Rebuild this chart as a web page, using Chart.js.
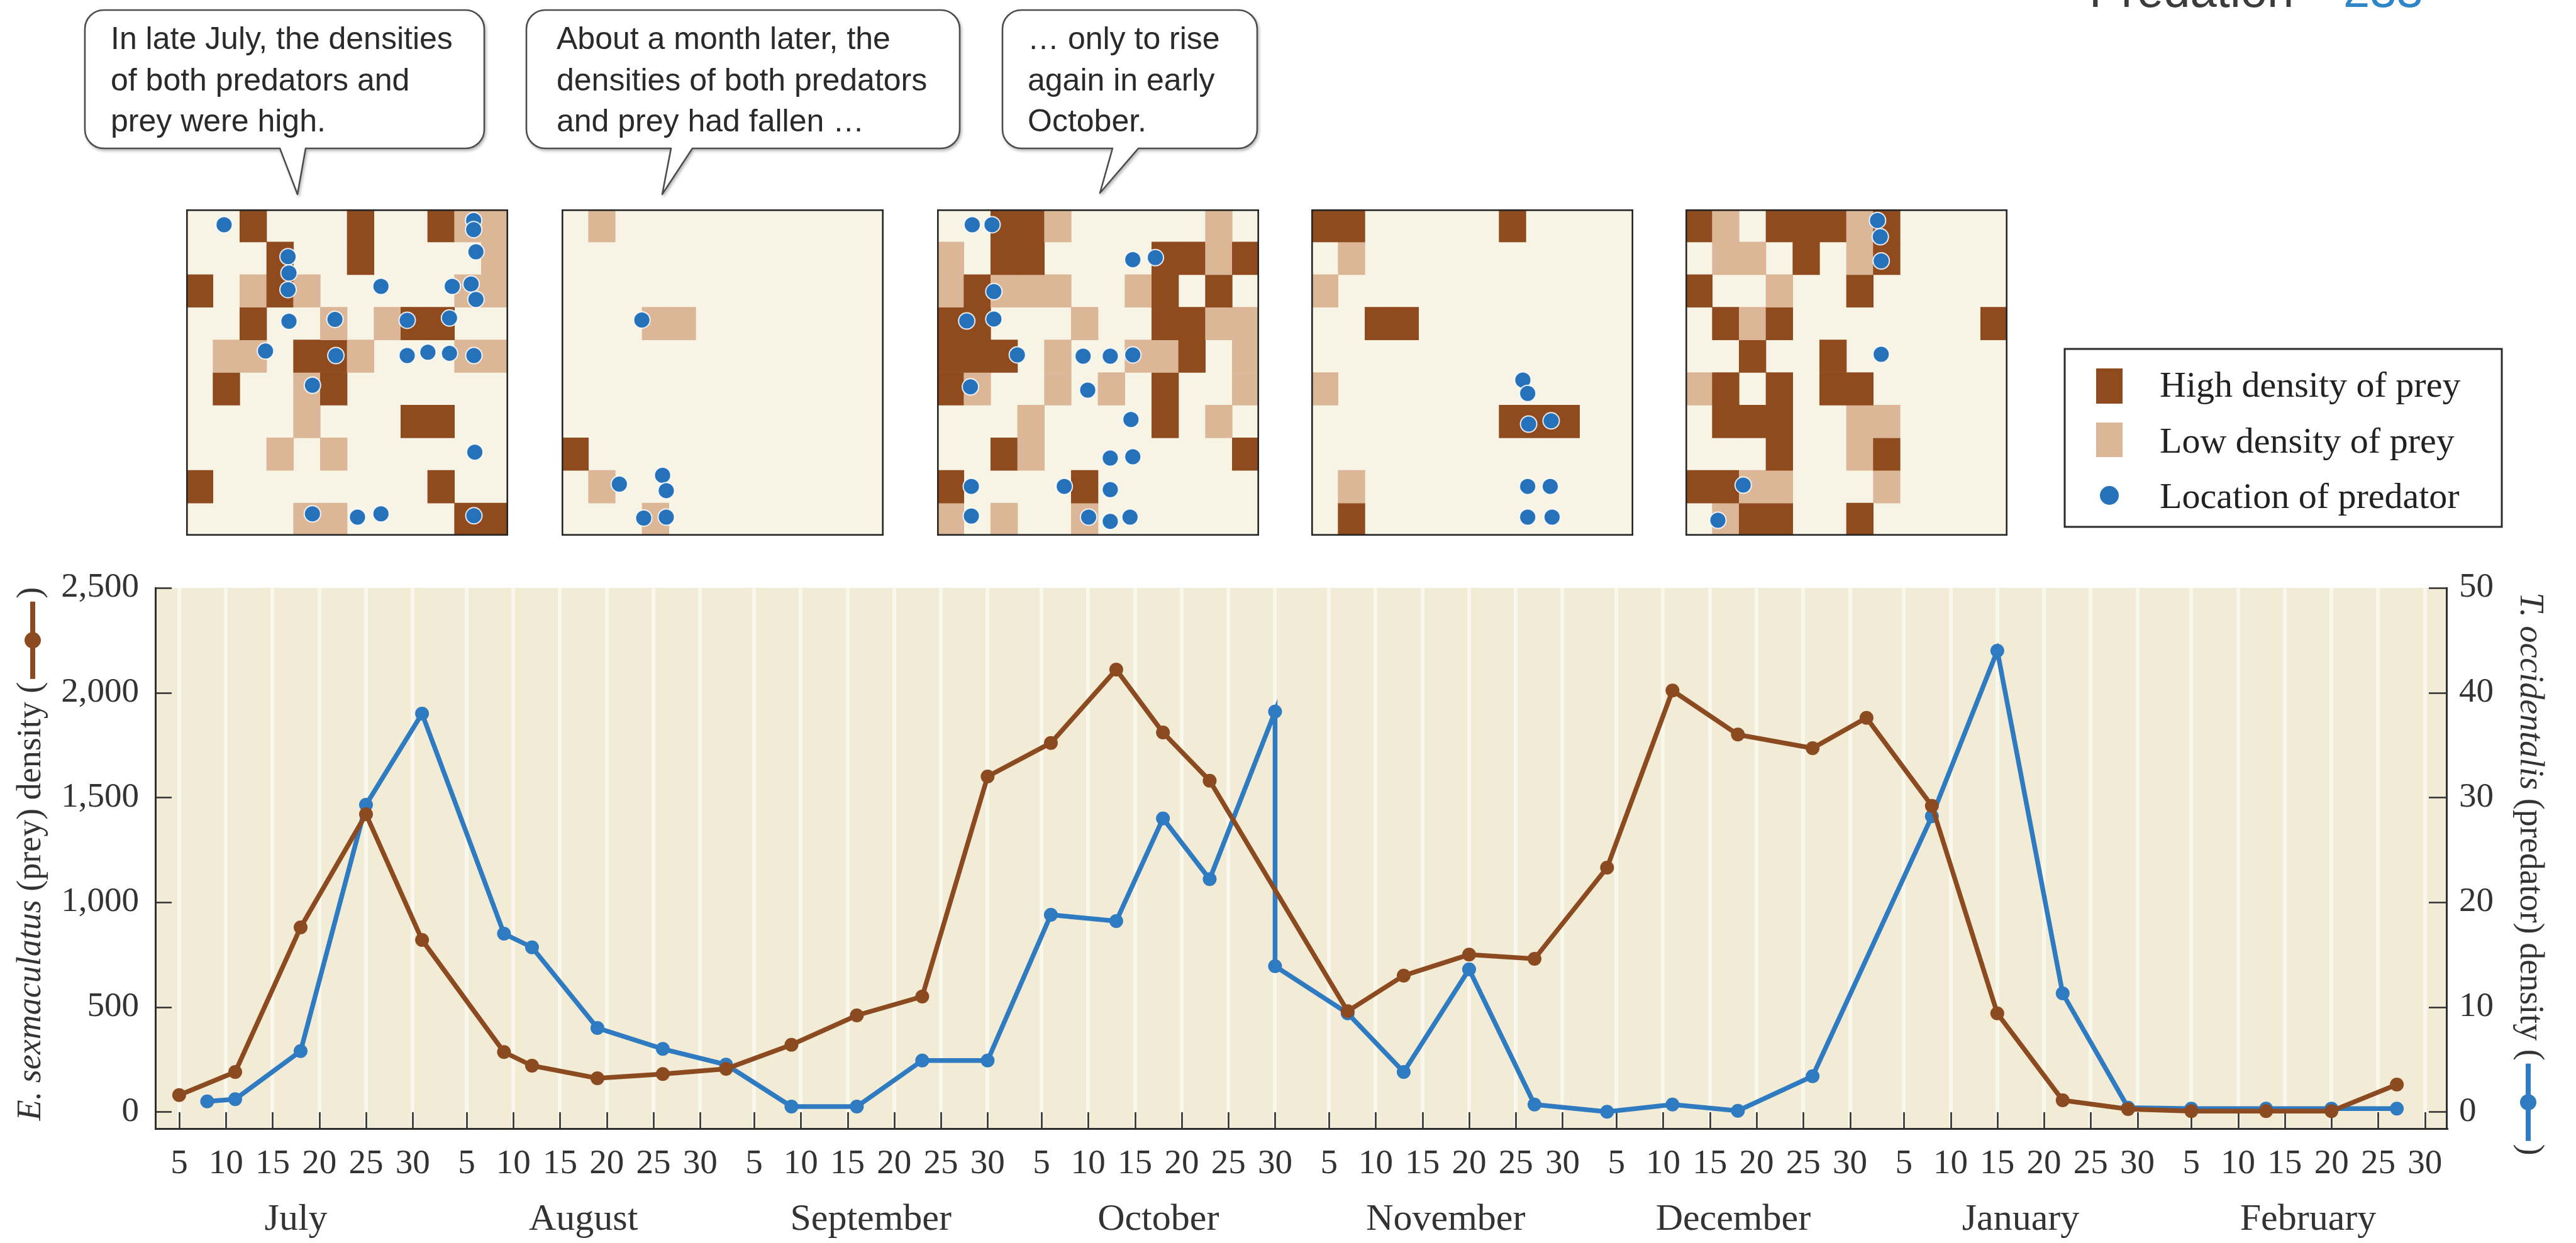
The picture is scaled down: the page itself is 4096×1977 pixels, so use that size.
<!DOCTYPE html>
<html>
<head>
<meta charset="utf-8">
<script src="https://cdn.jsdelivr.net/npm/chart.js@4.4.1/dist/chart.umd.min.js"></script>
<style>
  html, body { margin: 0; padding: 0; background: #ffffff; overflow: hidden; }
  #stage { position: relative; width: 4096px; height: 1977px; }
  #main { position: absolute; left: 0; top: 0; }
  .panel { position: absolute; top: 333px; }
  #overlay { position: absolute; left: 0; top: 0; pointer-events: none; }
</style>
</head>
<body>
<div id="stage">
  <canvas id="main" width="4096" height="1977"></canvas>
  <canvas class="panel" id="panel1" width="512" height="519" style="left:296px"></canvas>
  <canvas class="panel" id="panel2" width="512" height="519" style="left:893px"></canvas>
  <canvas class="panel" id="panel3" width="512" height="519" style="left:1490px"></canvas>
  <canvas class="panel" id="panel4" width="512" height="519" style="left:2085px"></canvas>
  <canvas class="panel" id="panel5" width="512" height="519" style="left:2680px"></canvas>
  <svg id="overlay" width="4096" height="1977" xmlns="http://www.w3.org/2000/svg">
    <defs>
      <filter id="shade" x="-5%" y="-5%" width="115%" height="130%">
        <feDropShadow dx="2" dy="3" stdDeviation="2" flood-color="#000" flood-opacity="0.28"/>
      </filter>
    </defs>
    <g font-family="'Liberation Sans', Arial, sans-serif" font-size="76">
      <text x="3322" y="11" fill="#3c3c3c">Predation</text>
      <text x="3726" y="11" fill="#2e86c9">233</text>
    </g>
    <g id="callouts"></g>
    <g id="legend" font-family="'Liberation Serif', serif" font-size="58" fill="#222">
      <rect x="3283" y="555" width="695" height="283" fill="#ffffff" stroke="#2b2b2b" stroke-width="3"/>
      <rect x="3333" y="586" width="42" height="56" fill="#8f4b1d"/>
      <rect x="3333" y="672" width="42" height="55" fill="#dcb797"/>
      <circle cx="3354" cy="788" r="15" fill="#2672ba"/>
      <text x="3434" y="631">High density of prey</text>
      <text x="3434" y="720">Low density of prey</text>
      <text x="3434" y="808">Location of predator</text>
    </g>
  </svg>
</div>
<script>
// ---- time axis -------------------------------------------------------------
const MONTHS = ['July', 'August', 'September', 'October', 'November', 'December', 'January', 'February'];
const MONTH_ABBR = ['Jul', 'Aug', 'Sep', 'Oct', 'Nov', 'Dec', 'Jan', 'Feb'];
const X_TICK_DAYS = [5, 10, 15, 20, 25, 30];
const X_TICK_LABELS = ['5', '10', '15', '20', '25', '30'];
const MONTH_SPAN = 30.77;          // axis units given to each month
const X_MIN = 2.45, X_MAX = 247.7;

// ---- prey: Eotetranychus sexmaculatus --------------------------------------
const preyDates = ['Jul 5', 'Jul 11', 'Jul 18', 'Jul 25', 'Jul 31', 'Aug 9', 'Aug 12', 'Aug 19', 'Aug 26',
  'Sep 2', 'Sep 9', 'Sep 16', 'Sep 23', 'Sep 30', 'Oct 6', 'Oct 13', 'Oct 18', 'Oct 23',
  'Nov 7', 'Nov 13', 'Nov 20', 'Nov 27', 'Dec 4', 'Dec 11', 'Dec 18', 'Dec 26',
  'Jan 1', 'Jan 8', 'Jan 15', 'Jan 22', 'Jan 29', 'Feb 5', 'Feb 13', 'Feb 20', 'Feb 27'];
const preyDensity = [80, 190, 880, 1420, 820, 285, 220, 160, 180,
  205, 320, 460, 550, 1600, 1760, 2110, 1810, 1580,
  480, 650, 750, 730, 1165, 2010, 1800, 1735,
  1880, 1460, 470, 55, 13, 3, 3, 3, 130];

// ---- predator: Typhlodromus occidentalis ----------------------------------
const predatorDates = ['Jul 8', 'Jul 11', 'Jul 18', 'Jul 25', 'Jul 31', 'Aug 9', 'Aug 12', 'Aug 19', 'Aug 26',
  'Sep 2', 'Sep 9', 'Sep 16', 'Sep 23', 'Sep 30', 'Oct 6', 'Oct 13', 'Oct 18', 'Oct 23', 'Oct 30', 'Oct 30',
  'Nov 7', 'Nov 13', 'Nov 20', 'Nov 27', 'Dec 4', 'Dec 11', 'Dec 18', 'Dec 26',
  'Jan 8', 'Jan 15', 'Jan 22', 'Jan 29', 'Feb 5', 'Feb 13', 'Feb 20', 'Feb 27'];
const predatorDensity = [1, 1.2, 5.8, 29.3, 38, 17, 15.7, 8, 6,
  4.5, 0.5, 0.5, 4.9, 4.9, 18.8, 18.2, 28, 22.2, 38.2, 13.9,
  9.4, 3.8, 13.6, 0.7, 0, 0.7, 0.1, 3.4,
  28.2, 44, 11.3, 0.4, 0.3, 0.3, 0.3, 0.3];

const PREY_TICKS = [0, 500, 1000, 1500, 2000, 2500];
const PREDATOR_TICKS = [0, 10, 20, 30, 40, 50];

// ---- sampling grids: H = high prey density, L = low, . = none -------------
const panel1Cells = [
  '..H...H..HLL',
  '...H..H....L',
  'H.LHL.....LL',
  '..H..L.LHH..',
  '.LL.HHL...LL',
  '.H..LH......',
  '....L...HH..',
  '...L.L......',
  'H........H..',
  '....LL....HH'];
const panel1Predators = [[0.65, 0.47], [11.5, 0.34], [11.5, 0.62], [11.6, 1.3], [3.43, 1.45], [3.47, 1.95],
  [3.43, 2.46], [7.47, 2.36], [10.57, 2.36], [11.39, 2.29], [11.6, 2.76], [3.47, 3.43], [5.47, 3.37],
  [8.61, 3.4], [10.45, 3.33], [2.45, 4.34], [5.51, 4.48], [8.61, 4.48], [9.51, 4.38], [10.45, 4.41],
  [11.51, 4.48], [4.49, 5.39], [11.55, 7.44], [4.49, 9.33], [6.45, 9.43], [7.47, 9.33], [11.51, 9.39]];

const panel2Cells = [
  '.L..........',
  '............',
  '............',
  '...LL.......',
  '............',
  '............',
  '............',
  'H...........',
  '.L..........',
  '...L........'];
const panel2Predators = [[2.49, 3.39], [3.39, 8.15], [3.55, 8.62], [1.51, 8.42], [2.57, 9.46], [3.55, 9.43]];

const panel3Cells = [
  '..HHL.....L.',
  'L.HH....HHLH',
  'LHLLL..LH.H.',
  'HH...L..HHLL',
  'HHH.L..LLH.L',
  'HL..L.L.H..L',
  '...L....H.L.',
  '..HL.......H',
  'H....H......',
  'L.L..L......'];
const panel3Predators = [[0.53, 0.47], [1.39, 0.47], [7.51, 1.54], [8.49, 1.48], [1.47, 2.52], [0.29, 3.42],
  [1.47, 3.36], [2.49, 4.46], [5.35, 4.5], [6.53, 4.5], [7.51, 4.46], [0.45, 5.44], [5.55, 5.54],
  [7.43, 6.44], [6.53, 7.62], [7.51, 7.58], [0.49, 8.49], [4.53, 8.49], [6.53, 8.59], [0.49, 9.4],
  [5.59, 9.43], [6.53, 9.56], [7.39, 9.43]];

const panel4Cells = [
  'HH.....H....',
  '.L..........',
  'L...........',
  '..HH........',
  '............',
  'L...........',
  '.......HHH..',
  '............',
  '.L..........',
  '.H..........'];
const panel4Predators = [[8.2, 5.23], [8.41, 5.64], [8.45, 6.58], [9.43, 6.48], [8.41, 8.49], [9.39, 8.49],
  [8.41, 9.43], [9.47, 9.43]];

const panel5Cells = [
  'HL.HHHLH....',
  '.LL.H.LH....',
  'H..L..H.....',
  '.HLH.......H',
  '..H..H......',
  'LH.H.HH.....',
  '.HHH..LL....',
  '...H..LH....',
  'HHLL...L....',
  '.LHH..H.....'];
const panel5Predators = [[7.35, 0.34], [7.47, 0.84], [7.51, 1.58], [7.51, 4.44], [1.51, 8.45], [0.41, 9.53]];

// ---- styles ----------------------------------------------------------------
const PREY_COLOR = '#8b4a20';
const PREDATOR_COLOR = '#2e7bc1';
const HIGH_COLOR = '#8f4b1d';
const LOW_COLOR = '#dcb797';
const DOT_COLOR = '#2672ba';
const CELL_BG = '#f7f4e6';
const PLOT_BG = '#f2ebd5';
const STRIPE = '#faf7ec';
const AXIS = '#2e2e2e';
const INK = '#333333';
const SERIF = "'Liberation Serif', 'Times New Roman', serif";

function dayPos(label) {
  const [mon, d] = label.split(' ');
  return MONTH_ABBR.indexOf(mon) * MONTH_SPAN + Number(d);
}
const xTickValues = MONTHS.flatMap((_, m) => X_TICK_DAYS.map(d => m * MONTH_SPAN + d));

// ---- sampling-grid charts --------------------------------------------------
function drawPanel(id, cells, predators) {
  const cols = cells[0].length, rows = cells.length;
  const datasets = cells.map((row, r) => ({
    type: 'bar',
    order: 1,
    data: row.split('').map(ch => (ch === '.' ? null : [r, r + 1])),
    backgroundColor: row.split('').map(ch => (ch === 'H' ? HIGH_COLOR : LOW_COLOR)),
    borderWidth: 0,
    grouped: false,
    barPercentage: 1,
    categoryPercentage: 1,
    xAxisID: 'x',
    yAxisID: 'y'
  }));
  datasets.push({
    type: 'scatter',
    order: 0,
    data: predators.map(([x, y]) => ({ x, y })),
    xAxisID: 'xp',
    yAxisID: 'y',
    pointRadius: 13,
    pointBackgroundColor: DOT_COLOR,
    pointBorderColor: 'rgba(255,255,255,0.85)',
    pointBorderWidth: 2
  });
  const frame = {
    id: 'frame',
    beforeDraw(chart) {
      const { ctx, chartArea: a } = chart;
      ctx.save();
      ctx.fillStyle = CELL_BG;
      ctx.fillRect(a.left, a.top, a.right - a.left, a.bottom - a.top);
      ctx.restore();
    },
    afterDraw(chart) {
      const { ctx, chartArea: a } = chart;
      ctx.save();
      ctx.strokeStyle = '#262626';
      ctx.lineWidth = 2.6;
      ctx.strokeRect(a.left + 1.3, a.top + 1.3, a.right - a.left - 2.6, a.bottom - a.top - 2.6);
      ctx.restore();
    }
  };
  new Chart(document.getElementById(id), {
    type: 'bar',
    data: { labels: Array.from({ length: cols }, (_, i) => i), datasets },
    options: {
      responsive: false,
      animation: false,
      events: [],
      layout: { padding: 0, autoPadding: false },
      plugins: { legend: { display: false }, tooltip: { enabled: false } },
      scales: {
        x: { type: 'category', display: false, offset: true },
        xp: { type: 'linear', display: false, min: 0, max: cols },
        y: { type: 'linear', display: false, min: 0, max: rows, reverse: true }
      }
    },
    plugins: [frame]
  });
}
drawPanel('panel1', panel1Cells, panel1Predators);
drawPanel('panel2', panel2Cells, panel2Predators);
drawPanel('panel3', panel3Cells, panel3Predators);
drawPanel('panel4', panel4Cells, panel4Predators);
drawPanel('panel5', panel5Cells, panel5Predators);

// ---- time-series chart -----------------------------------------------------
function axisTitle(ctx, cx, cy, angle, parts, color) {
  const size = 54;
  ctx.save();
  ctx.translate(cx, cy);
  ctx.rotate(angle);
  ctx.textBaseline = 'middle';
  ctx.fillStyle = INK;
  const fontOf = p => `${p.italic ? 'italic ' : ''}${size}px ${SERIF}`;
  const widths = parts.map(p => { ctx.font = fontOf(p); return ctx.measureText(p.text).width; });
  ctx.font = fontOf({});
  const closeW = ctx.measureText(')').width;
  const symLen = 123, gap = 5;
  const total = widths.reduce((s, w) => s + w, 0) + gap + symLen + gap + closeW;
  let x = -total / 2;
  parts.forEach((p, i) => { ctx.font = fontOf(p); ctx.fillText(p.text, x, 0); x += widths[i]; });
  x += gap;
  ctx.strokeStyle = color;
  ctx.fillStyle = color;
  ctx.lineWidth = 8;
  ctx.beginPath(); ctx.moveTo(x, 2); ctx.lineTo(x + symLen, 2); ctx.stroke();
  ctx.beginPath(); ctx.arc(x + symLen / 2, 2, 13, 0, Math.PI * 2); ctx.fill();
  x += symLen + gap;
  ctx.fillStyle = INK;
  ctx.font = fontOf({});
  ctx.fillText(')', x, 0);
  ctx.restore();
}

const decor = {
  id: 'decor',
  beforeDraw(chart) {
    const { ctx, chartArea: a } = chart;
    ctx.save();
    ctx.fillStyle = PLOT_BG;
    ctx.fillRect(a.left, a.top, a.right - a.left, a.bottom - a.top);
    ctx.restore();
  },
  beforeDatasetsDraw(chart) {
    const { ctx, chartArea: a, scales } = chart;
    ctx.save();
    ctx.strokeStyle = AXIS;
    ctx.lineWidth = 2.6;
    ctx.beginPath();
    scales.yL.ticks.forEach(t => {
      const y = Math.round(scales.yL.getPixelForValue(t.value)) + 0.5;
      ctx.moveTo(a.left, y); ctx.lineTo(a.left + 26, y);
    });
    scales.yR.ticks.forEach(t => {
      const y = Math.round(scales.yR.getPixelForValue(t.value)) + 0.5;
      ctx.moveTo(a.right - 28, y); ctx.lineTo(a.right, y);
    });
    scales.x.ticks.forEach(t => {
      const x = Math.round(scales.x.getPixelForValue(t.value)) + 0.5;
      ctx.moveTo(x, a.bottom); ctx.lineTo(x, a.bottom - 26);
    });
    ctx.stroke();
    ctx.restore();
  },
  afterDraw(chart) {
    const { ctx, scales } = chart;
    ctx.save();
    ctx.fillStyle = INK;
    ctx.font = `60px ${SERIF}`;
    ctx.textAlign = 'center';
    ctx.textBaseline = 'alphabetic';
    MONTHS.forEach((name, m) => {
      ctx.fillText(name, scales.x.getPixelForValue(m * MONTH_SPAN + 17.5), 1956);
    });
    ctx.restore();
    axisTitle(ctx, 50, 1358, -Math.PI / 2,
      [{ text: 'E. sexmaculatus', italic: true }, { text: ' (prey) density (' }], PREY_COLOR);
    axisTitle(ctx, 4022, 1390, Math.PI / 2,
      [{ text: 'T. occidentalis', italic: true }, { text: ' (predator) density (' }], PREDATOR_COLOR);
  }
};

const tickFont = { family: SERIF, size: 55 };
new Chart(document.getElementById('main'), {
  type: 'line',
  data: {
    datasets: [
      {
        label: 'E. sexmaculatus',
        data: preyDates.map((d, i) => ({ x: dayPos(d), y: preyDensity[i] })),
        yAxisID: 'yL',
        borderColor: PREY_COLOR,
        backgroundColor: PREY_COLOR,
        borderWidth: 7.5,
        pointRadius: 11,
        pointBorderWidth: 0,
        tension: 0
      },
      {
        label: 'T. occidentalis',
        data: predatorDates.map((d, i) => ({ x: dayPos(d), y: predatorDensity[i] })),
        yAxisID: 'yR',
        borderColor: PREDATOR_COLOR,
        backgroundColor: PREDATOR_COLOR,
        borderWidth: 7.5,
        pointRadius: 11,
        pointBorderWidth: 0,
        tension: 0
      }
    ]
  },
  options: {
    responsive: false,
    animation: false,
    events: [],
    layout: { padding: { top: 935, left: 0, right: 0, bottom: 0 }, autoPadding: false },
    plugins: { legend: { display: false }, tooltip: { enabled: false } },
    scales: {
      x: {
        type: 'linear',
        min: X_MIN,
        max: X_MAX,
        afterBuildTicks: s => { s.ticks = xTickValues.map(v => ({ value: v })); },
        afterFit: s => { s.height = 182; },
        grid: { color: STRIPE, lineWidth: 6, drawTicks: false },
        border: { display: true, color: AXIS, width: 3 },
        ticks: {
          callback: (v, i) => X_TICK_LABELS[i % X_TICK_LABELS.length],
          autoSkip: false, maxRotation: 0, minRotation: 0,
          padding: 24, font: tickFont, color: INK
        }
      },
      yL: {
        position: 'left',
        min: -80,
        max: 2500,
        afterBuildTicks: s => { s.ticks = PREY_TICKS.map(v => ({ value: v })); },
        afterFit: s => { s.width = 247; },
        grid: { drawOnChartArea: false, drawTicks: false },
        border: { display: true, color: AXIS, width: 3 },
        ticks: { callback: v => v.toLocaleString('en-US'), padding: 26, font: tickFont, color: INK }
      },
      yR: {
        position: 'right',
        min: -1.6,
        max: 50,
        afterBuildTicks: s => { s.ticks = PREDATOR_TICKS.map(v => ({ value: v })); },
        afterFit: s => { s.width = 206; },
        grid: { drawOnChartArea: false, drawTicks: false },
        border: { display: true, color: AXIS, width: 3 },
        ticks: { callback: v => String(v), padding: 20, font: tickFont, color: INK }
      }
    }
  },
  plugins: [decor]
});

// ---- speech-bubble notes ---------------------------------------------------
const noteLines = [
  ['In late July, the densities', 'of both predators and', 'prey were high.'],
  ['About a month later, the', 'densities of both predators', 'and prey had fallen …'],
  ['… only to rise', 'again in early', 'October.']
];
const noteBoxes = [
  { x: 135, y: 16, w: 635, h: 220, tl: 445, tr: 486, tipX: 473, tipY: 309, textX: 176 },
  { x: 837, y: 16, w: 689, h: 220, tl: 1067, tr: 1101, tipX: 1053, tipY: 309, textX: 885 },
  { x: 1594, y: 16, w: 405, h: 220, tl: 1769, tr: 1810, tipX: 1749, tipY: 307, textX: 1634 }
];
const NOTE_BASELINES = [78, 144, 209];
const SVGNS = 'http://www.w3.org/2000/svg';
const notes = document.getElementById('callouts');
noteBoxes.forEach((b, i) => {
  const r = 30, bottom = b.y + b.h;
  const d = [
    `M${b.x + r},${b.y}`, `H${b.x + b.w - r}`, `A${r},${r} 0 0 1 ${b.x + b.w},${b.y + r}`,
    `V${bottom - r}`, `A${r},${r} 0 0 1 ${b.x + b.w - r},${bottom}`,
    `H${b.tr}`, `L${b.tipX},${b.tipY}`, `L${b.tl},${bottom}`,
    `H${b.x + r}`, `A${r},${r} 0 0 1 ${b.x},${bottom - r}`,
    `V${b.y + r}`, `A${r},${r} 0 0 1 ${b.x + r},${b.y}`, 'Z'
  ].join(' ');
  const path = document.createElementNS(SVGNS, 'path');
  path.setAttribute('d', d);
  path.setAttribute('fill', '#ffffff');
  path.setAttribute('stroke', '#4d4d4d');
  path.setAttribute('stroke-width', '2.6');
  path.setAttribute('stroke-linejoin', 'round');
  path.setAttribute('filter', 'url(#shade)');
  notes.appendChild(path);
  noteLines[i].forEach((line, k) => {
    const t = document.createElementNS(SVGNS, 'text');
    t.setAttribute('x', b.textX);
    t.setAttribute('y', NOTE_BASELINES[k]);
    t.setAttribute('font-family', "'Liberation Sans', Arial, sans-serif");
    t.setAttribute('font-size', '50');
    t.setAttribute('fill', '#2a2a2a');
    t.textContent = line;
    notes.appendChild(t);
  });
});
</script>
</body>
</html>
